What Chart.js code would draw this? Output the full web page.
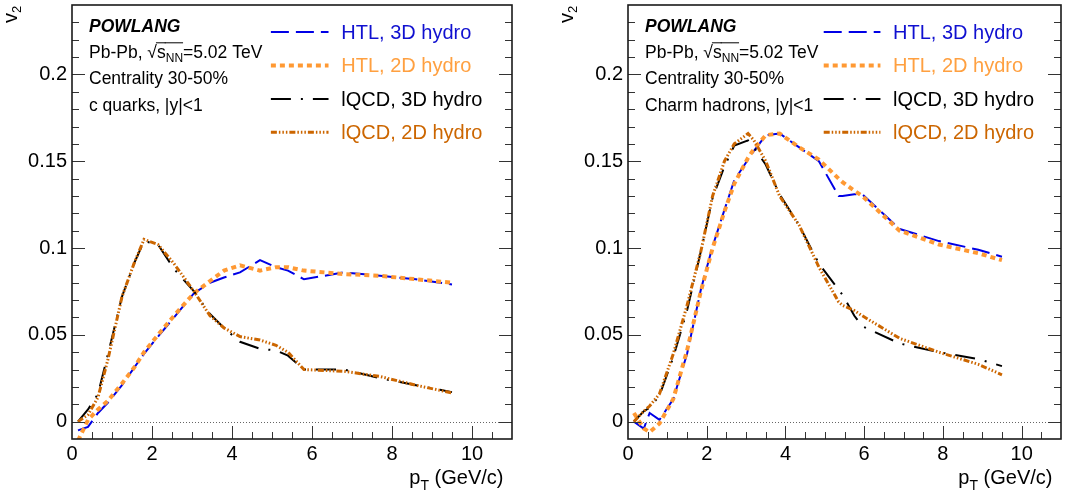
<!DOCTYPE html>
<html>
<head>
<meta charset="utf-8">
<title>POWLANG v2 vs pT</title>
<script src="https://cdn.jsdelivr.net/npm/chart.js@4.4.1/dist/chart.umd.min.js"></script>
<style>
    body { margin: 0; background: #fff; }
    #wrap { position: relative; width: 1072px; height: 498px; }
    .panel { position: absolute; top: 0; width: 536px; height: 498px; }
</style>
</head>
<body>
<div id="wrap">
    <div class="panel" style="left:0"><canvas id="quarkChart"></canvas></div>
    <div class="panel" style="left:536px"><canvas id="hadronChart"></canvas></div>
</div>
<script>
const FONT = "'Liberation Sans', Arial, Helvetica, sans-serif";

// c quarks, |y|<1
const quarkPt      = [0.15, 0.4, 0.65, 0.9, 1.25, 1.55, 1.8, 2.15, 2.55, 3.05, 3.45, 3.8, 4.2, 4.7, 5.1, 5.4, 5.8, 6.8, 7.7, 8.6, 9.5];
const quarkHtl3D   = [-0.005, -0.003, 0.005, 0.011, 0.021, 0.031, 0.039, 0.049, 0.060, 0.074, 0.080, 0.083, 0.086, 0.093, 0.089, 0.087, 0.082, 0.086, 0.084, 0.082, 0.079];
const quarkHtl2D   = [-0.011, 0.001, 0.007, 0.012, 0.022, 0.031, 0.040, 0.050, 0.061, 0.074, 0.081, 0.087, 0.090, 0.087, 0.089, 0.089, 0.087, 0.085, 0.084, 0.082, 0.080];
const quarkLqcd3D  = [0, 0.007, 0.016, 0.039, 0.072, 0.091, 0.104, 0.102, 0.088, 0.075, 0.062, 0.054, 0.046, 0.042, 0.041, 0.038, 0.030, 0.030, 0.025, 0.021, 0.017];
const quarkLqcd2D  = [0, 0.004, 0.014, 0.036, 0.072, 0.091, 0.105, 0.102, 0.091, 0.075, 0.061, 0.054, 0.049, 0.047, 0.044, 0.040, 0.030, 0.029, 0.026, 0.021, 0.0165];

// Charm hadrons, |y|<1
const hadronPt     = [0.15, 0.4, 0.55, 0.8, 1.15, 1.5, 1.85, 2.15, 2.45, 2.7, 3.05, 3.2, 3.5, 3.85, 4.35, 4.85, 5.35, 5.45, 5.75, 5.95, 6.9, 7.9, 8.9, 9.5];
const hadronHtl3D  = [0, -0.004, 0.005, 0.001, 0.013, 0.039, 0.076, 0.101, 0.122, 0.139, 0.151, 0.156, 0.165, 0.166, 0.158, 0.150, 0.130, 0.130, 0.131, 0.131, 0.111, 0.104, 0.099, 0.095];
const hadronHtl2D  = [0.005, -0.004, -0.006, -0.001, 0.013, 0.041, 0.075, 0.100, 0.121, 0.137, 0.152, 0.157, 0.165, 0.166, 0.158, 0.151, 0.140, 0.138, 0.133, 0.130, 0.110, 0.102, 0.097, 0.093];
const hadronLqcd3D = [0, 0.006, 0.008, 0.015, 0.037, 0.064, 0.098, 0.129, 0.147, 0.159, 0.162, 0.158, 0.148, 0.131, 0.113, 0.091, 0.076, 0.073, 0.061, 0.055, 0.045, 0.040, 0.036, 0.032];
const hadronLqcd2D = [0, 0.006, 0.009, 0.016, 0.039, 0.067, 0.098, 0.130, 0.150, 0.160, 0.166, 0.162, 0.150, 0.130, 0.113, 0.089, 0.069, 0.067, 0.064, 0.061, 0.048, 0.040, 0.033, 0.027];

// axes
const xTickValues = [0, 2, 4, 6, 8, 10];
const xTickLabels = ['0', '2', '4', '6', '8', '10'];
const yTickValues = [0, 0.05, 0.1, 0.15, 0.2];
const yTickLabels = ['0', '0.05', '0.1', '0.15', '0.2'];

const seriesLabels = ['HTL, 3D hydro', 'HTL, 2D hydro', 'lQCD, 3D hydro', 'lQCD, 2D hydro'];
const seriesStyle = [
    { color: '#0000e6', text: '#1010d0', width: 2, dash: [18, 7] },
    { color: '#ff9933', text: '#ffa040', width: 4, dash: [5, 4] },
    { color: '#000000', text: '#000000', width: 2, dash: [20, 10, 2, 10] },
    { color: '#cc6600', text: '#cc6600', width: 3, dash: [6, 2, 1.5, 2, 1.5, 2, 1.5, 2] }
];

function buildDatasets(pt, seriesList) {
    return seriesList.map((vals, i) => ({
        label: seriesLabels[i],
        data: pt.map((x, k) => ({ x: x, y: vals[k] })),
        borderColor: seriesStyle[i].color,
        borderWidth: seriesStyle[i].width,
        borderDash: seriesStyle[i].dash,
        textColor: seriesStyle[i].text,
        pointRadius: 0,
        tension: 0,
        fill: false,
        order: seriesList.length - 1 - i
    }));
}

// draw text pieces one after the other
function drawRich(ctx, x, y, parts) {
    parts.forEach(p => {
        ctx.font = p.font;
        const w = ctx.measureText(p.t).width;
        ctx.fillText(p.t, x, y + (p.dy || 0));
        if (p.over) {
            ctx.beginPath();
            ctx.moveTo(x - 1, y - 15.5);
            ctx.lineTo(x + w, y - 15.5);
            ctx.lineWidth = 1;
            ctx.stroke();
        }
        x += w;
    });
    return x;
}

const framePlugin = {
    id: 'frame',
    beforeDatasetsDraw(chart) {
        const { ctx, chartArea: a, scales: { y } } = chart;
        const y0 = Math.round(y.getPixelForValue(0)) + 0.5;
        ctx.save();
        ctx.strokeStyle = '#666';
        ctx.lineWidth = 1;
        ctx.setLineDash([1, 2]);
        ctx.beginPath();
        ctx.moveTo(a.left, y0);
        ctx.lineTo(a.right, y0);
        ctx.stroke();
        ctx.restore();
    },
    afterDatasetsDraw(chart) {
        const { ctx, chartArea: a, scales: { x, y } } = chart;
        ctx.save();
        ctx.strokeStyle = '#333';
        ctx.lineWidth = 1;
        ctx.beginPath();
        for (let k = -1; k <= 24; k++) {
            const py = Math.round(y.getPixelForValue(k / 100)) + 0.5;
            if (py < a.top + 1 || py > a.bottom - 1) continue;
            const len = k % 5 === 0 ? 13 : 7;
            ctx.moveTo(a.left, py); ctx.lineTo(a.left + len, py);
            ctx.moveTo(a.right, py); ctx.lineTo(a.right - len, py);
        }
        for (let k = 1; k <= 21; k++) {
            const px = Math.round(x.getPixelForValue(k / 2)) + 0.5;
            const len = k % 4 === 0 ? 13 : 7;
            ctx.moveTo(px, a.bottom); ctx.lineTo(px, a.bottom - len);
        }
        ctx.stroke();
        ctx.lineWidth = 1.6;
        ctx.strokeStyle = '#1a1a1a';
        ctx.strokeRect(a.left, a.top, a.right - a.left, a.bottom - a.top);
        ctx.restore();
    },
    afterDraw(chart, args, opts) {
        const { ctx, chartArea: a } = chart;
        const w = a.right - a.left;
        ctx.save();
        ctx.fillStyle = '#000';
        ctx.strokeStyle = '#000';
        ctx.textBaseline = 'alphabetic';
        ctx.textAlign = 'left';

        // header text
        const tx = a.left + 17;
        ctx.font = `italic bold 17.5px ${FONT}`;
        ctx.fillText('POWLANG', tx, 31.5);
        drawRich(ctx, tx, 58.3, [
            { t: 'Pb-Pb, ', font: `17.5px ${FONT}` },
            { t: '\u221A', font: `17.5px ${FONT}` },
            { t: 's', font: `17.5px ${FONT}`, over: true },
            { t: 'NN', font: `12px ${FONT}`, dy: 4, over: true },
            { t: '=5.02 TeV', font: `17.5px ${FONT}` }
        ]);
        ctx.font = `17.5px ${FONT}`;
        ctx.fillText('Centrality 30-50%', tx, 84.3);
        ctx.fillText(opts.species, tx, 111);

        // legend
        const x1 = a.left + w * 0.452, x2 = a.left + w * 0.583, xt = a.left + w * 0.612;
        const rows = [32, 65.5, 99, 132.3];
        chart.data.datasets.forEach((ds, i) => {
            ctx.save();
            ctx.strokeStyle = ds.borderColor;
            ctx.lineWidth = ds.borderWidth;
            ctx.setLineDash(ds.borderDash);
            ctx.beginPath();
            ctx.moveTo(x1, rows[i]);
            ctx.lineTo(x2, rows[i]);
            ctx.stroke();
            ctx.restore();
            ctx.fillStyle = ds.textColor;
            ctx.font = `20px ${FONT}`;
            ctx.textBaseline = 'middle';
            ctx.fillText(ds.label, xt, rows[i] + 1);
        });

        // axis titles
        ctx.fillStyle = '#000';
        ctx.textBaseline = 'alphabetic';
        ctx.textAlign = 'left';
        ctx.save();
        ctx.translate(a.left - 55, 23);
        ctx.rotate(-Math.PI / 2);
        drawRich(ctx, 0, 0, [
            { t: 'v', font: `20px ${FONT}` },
            { t: '2', font: `13px ${FONT}`, dy: 4 }
        ]);
        ctx.restore();

        ctx.font = `20px ${FONT}`;
        const tail = ' (GeV/c)';
        const wTail = ctx.measureText(tail).width;
        const wP = ctx.measureText('p').width;
        ctx.font = `14px ${FONT}`;
        const wT = ctx.measureText('T').width;
        const startX = a.right - 8.5 - wTail - wP - wT;
        drawRich(ctx, startX, 484, [
            { t: 'p', font: `20px ${FONT}` },
            { t: 'T', font: `14px ${FONT}`, dy: 6 },
            { t: tail, font: `20px ${FONT}` }
        ]);
        ctx.restore();
    }
};

function makeChart(canvasId, pt, seriesList, species, axisWidth, padRight) {
    return new Chart(document.getElementById(canvasId), {
        type: 'line',
        data: { datasets: buildDatasets(pt, seriesList) },
        options: {
            responsive: true,
            maintainAspectRatio: false,
            animation: false,
            devicePixelRatio: 1,
            layout: { padding: { top: 5, right: padRight, left: 0, bottom: 0 } },
            plugins: {
                legend: { display: false },
                tooltip: { enabled: false },
                frame: { species: species }
            },
            scales: {
                x: {
                    type: 'linear',
                    min: 0,
                    max: 11,
                    grid: { display: false, drawTicks: false },
                    border: { display: false },
                    afterBuildTicks: scale => { scale.ticks = xTickValues.map(v => ({ value: v })); },
                    afterFit: scale => {
                        scale.height = 59;
                        scale.paddingLeft = 0;
                        scale.paddingRight = 0;
                    },
                    ticks: {
                        autoSkip: false,
                        maxRotation: 0,
                        padding: 3,
                        color: '#000',
                        font: { family: FONT, size: 20 },
                        callback: (v, i) => xTickLabels[i]
                    }
                },
                y: {
                    type: 'linear',
                    min: -0.01,
                    max: 0.24,
                    grid: { display: false, drawTicks: false },
                    border: { display: false },
                    afterBuildTicks: scale => { scale.ticks = yTickValues.map(v => ({ value: v })); },
                    afterFit: scale => {
                        scale.width = axisWidth;
                        scale.paddingTop = 0;
                        scale.paddingBottom = 0;
                    },
                    ticks: {
                        autoSkip: false,
                        padding: 5,
                        color: '#000',
                        font: { family: FONT, size: 20 },
                        callback: (v, i) => yTickLabels[i]
                    }
                }
            }
        },
        plugins: [framePlugin]
    });
}

makeChart('quarkChart', quarkPt, [quarkHtl3D, quarkHtl2D, quarkLqcd3D, quarkLqcd2D], 'c quarks, |y|<1', 72, 24);
makeChart('hadronChart', hadronPt, [hadronHtl3D, hadronHtl2D, hadronLqcd3D, hadronLqcd2D], 'Charm hadrons, |y|<1', 92, 11);
</script>
</body>
</html>
